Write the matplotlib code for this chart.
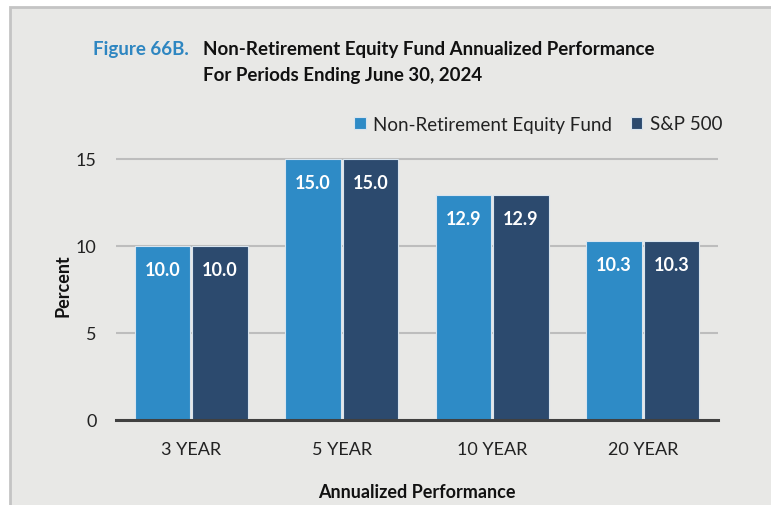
import matplotlib
matplotlib.use("Agg")
import matplotlib.pyplot as plt
from matplotlib.patches import Rectangle
import numpy as np

categories = ["3 YEAR", "5 YEAR", "10 YEAR", "20 YEAR"]
fund_values = [10.0, 15.0, 12.9, 10.3]
sp_values = [10.0, 15.0, 12.9, 10.3]
series_names = ["Non-Retirement Equity Fund", "S&P 500"]
yticks = [0, 5, 10, 15]

W, H = 771, 506
plt.rcParams['font.family'] = ['Lato', 'DejaVu Sans']
fig = plt.figure(figsize=(W / 100, H / 100), dpi=100, facecolor="white")

def fx(px):
    return px / W

def fy(py):
    return 1 - py / H

# background panel with border
bg = fig.add_axes([0, 0, 1, 1], zorder=-10)
bg.set_xlim(0, 1)
bg.set_ylim(0, 1)
bg.axis("off")
bg.add_patch(Rectangle((fx(10), -0.1), 1.2, fy(8) + 0.1, facecolor="#e8e8e6",
                       edgecolor="#c4c4c4", linewidth=2))

ax = fig.add_axes([fx(116), fy(421), fx(718) - fx(116), fy(151) - fy(421)])
ax.set_facecolor("none")
light = "#2e8bc6"
dark = "#2c4a6e"
x = np.arange(len(categories))
bw = 0.37
b1 = ax.bar(x - bw / 2 - 0.005, fund_values, bw, color=light, edgecolor="#d8e4ee", linewidth=0.8, zorder=3)
b2 = ax.bar(x + bw / 2 + 0.005, sp_values, bw, color=dark, edgecolor="#d8e4ee", linewidth=0.8, zorder=3)

for bars, vals in ((b1, fund_values), (b2, sp_values)):
    for r, v in zip(bars, vals):
        ax.annotate(f"{v:.1f}", (r.get_x() + r.get_width() / 2, v), xytext=(0, -17),
                    textcoords="offset points", ha="center", va="center",
                    color="white", fontweight="bold", fontsize=13, zorder=4)

ax.set_xlim(-0.5, 3.5)
ax.set_ylim(0, 15.5)
ax.set_yticks(yticks)
ax.set_xticks(x)
ax.set_xticklabels(categories)
ax.tick_params(axis="both", length=0, labelsize=13, colors="#222222")
ax.tick_params(axis="y", pad=14)
ax.tick_params(axis="x", pad=15)
ax.yaxis.grid(True, color="#bdbdbd", linewidth=1.5, zorder=0)
ax.set_axisbelow(True)
for s in ("top", "right", "left"):
    ax.spines[s].set_visible(False)
ax.spines["bottom"].set_color("#404040")
ax.spines["bottom"].set_linewidth(2.2)
ax.spines["bottom"].set_zorder(5)

ax.set_ylabel("Percent", fontsize=13, fontweight="bold", color="#111111", labelpad=3)
ax.set_xlabel("Annualized Performance", fontsize=13, fontweight="bold", color="#111111", labelpad=19)

leg = fig.legend([b1, b2], series_names, loc="center right", bbox_to_anchor=(fx(739), fy(125)),
                 ncol=2, frameon=False, fontsize=13.5, handlelength=0.6, handleheight=0.6,
                 handletextpad=0.4, columnspacing=1.0)
for t in leg.get_texts():
    t.set_color("#222222")

fig.text(fx(93), fy(50), "Figure 66B.", color="#2e86c1", fontsize=13.5, fontweight="bold", va="center", ha="left")
fig.text(fx(203), fy(50), "Non-Retirement Equity Fund Annualized Performance", color="#111111",
         fontsize=13.5, fontweight="bold", va="center", ha="left")
fig.text(fx(203), fy(75), "For Periods Ending June 30, 2024", color="#111111",
         fontsize=13.5, fontweight="bold", va="center", ha="left")

fig.savefig("out.png", dpi=100, facecolor="white")
